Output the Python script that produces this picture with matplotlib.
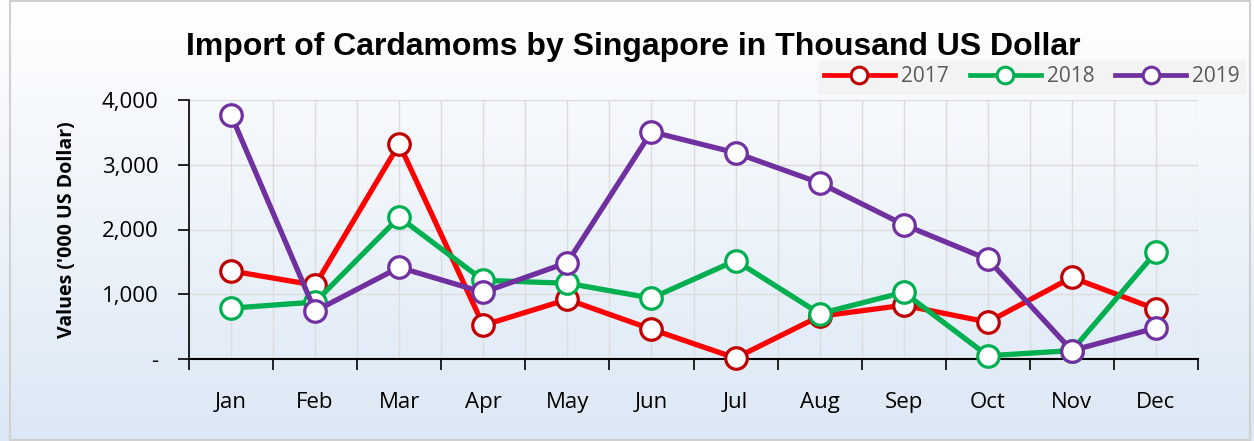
import numpy as np
import matplotlib

matplotlib.use("Agg")
import matplotlib.pyplot as plt
from matplotlib.ticker import FuncFormatter, MultipleLocator, FixedLocator
from matplotlib.patches import Rectangle

months = ["Jan", "Feb", "Mar", "Apr", "May", "Jun",
          "Jul", "Aug", "Sep", "Oct", "Nov", "Dec"]
v2017 = [1360, 1140, 3320, 520, 920, 460, 15, 660, 830, 570, 1260, 770]
v2018 = [785, 880, 2190, 1215, 1170, 940, 1520, 700, 1030, 50, 130, 1650]
v2019 = [3770, 740, 1415, 1030, 1490, 3510, 3185, 2720, 2075, 1540, 130, 480]

series = [
    ("2017", v2017, "#ff0000", "#c00000"),
    ("2018", v2018, "#00b050", "#00b050"),
    ("2019", v2019, "#7030a0", "#7030a0"),
]

fig = plt.figure(figsize=(12.54, 4.41), dpi=100)

# background gradient (white -> light blue)
bg = fig.add_axes([0, 0, 1, 1], zorder=-10)
grad = np.linspace(0, 1, 256).reshape(256, 1, 1)
top = np.array([1.0, 1.0, 1.0])
bot = np.array([0xdc, 0xe8, 0xf5]) / 255
img = top + (bot - top) * grad
bg.imshow(img, aspect="auto", extent=[0, 1, 0, 1], origin="upper")
bg.add_patch(Rectangle((10 / 1254, 0.002), 1 - 14 / 1254, 0.996, transform=bg.transAxes,
                       fill=False, ec="#d0d0d0", lw=1.5))
bg.set_axis_off()

ax = fig.add_axes([189 / 1254, 1 - 359 / 441, (1198 - 189) / 1254, (359 - 100) / 441])
ax.set_facecolor("none")
x = np.arange(len(months))
for name, vals, col, edge in series:
    ax.plot(x, vals, color=col, lw=3.8, marker="o", ms=15.5, mfc="white",
            mec=edge, mew=2.3, label=name, zorder=3, clip_on=False)

ax.set_xlim(-0.5, 11.5)
ax.set_ylim(0, 4000)
ax.xaxis.set_major_locator(FixedLocator(np.arange(-0.5, 12, 1)))
ax.xaxis.set_major_formatter(FuncFormatter(lambda v, p: ""))
ax.set_xticks(x, months, minor=True)
ax.tick_params(axis="x", which="major", direction="out", length=8, width=1.2)
ax.tick_params(axis="x", which="minor", length=0, pad=24, labelsize=16)
ax.yaxis.set_major_locator(MultipleLocator(1000))
ax.yaxis.set_major_formatter(FuncFormatter(lambda v, p: "-" if v == 0 else f"{v:,.0f}"))
ax.tick_params(axis="y", direction="out", length=8, width=1.2, pad=14, labelsize=16)
for lbl in ax.get_xticklabels(minor=True) + ax.get_yticklabels():
    lbl.set_fontfamily("Open Sans")

ax.grid(which="both", axis="x", color="#dcdcdc", lw=1)
ax.grid(which="major", axis="y", color="#dcdcdc", lw=1)
ax.set_axisbelow(True)
for s in ("top", "right"):
    ax.spines[s].set_visible(False)
ax.spines["left"].set_linewidth(1.2)
ax.spines["bottom"].set_linewidth(1.5)

ax.set_ylabel("Values ('000 US Dollar)", fontsize=14, fontweight="bold",
              fontfamily="Open Sans", labelpad=18)

fig.text(0.148, 1 - 47 / 441, "Import of Cardamoms by Singapore in Thousand US Dollar",
         fontsize=23, fontweight="bold", fontfamily="Liberation Sans", va="center")

leg = fig.legend(loc="center", bbox_to_anchor=(1032 / 1254, 1 - 77 / 441), ncol=3,
                 frameon=True, fancybox=False, facecolor="#f2f2f2", edgecolor="#f2f2f2",
                 handlelength=3.4, columnspacing=1.0, handletextpad=0.3,
                 borderpad=0.25, prop={"family": "Open Sans", "size": 15})
for t in leg.get_texts():
    t.set_color("#595959")
for h in leg.legend_handles:
    h.set_markersize(12)
    h.set_markeredgewidth(2.2)
    h.set_linewidth(3.4)

fig.savefig("out.png", dpi=100)
